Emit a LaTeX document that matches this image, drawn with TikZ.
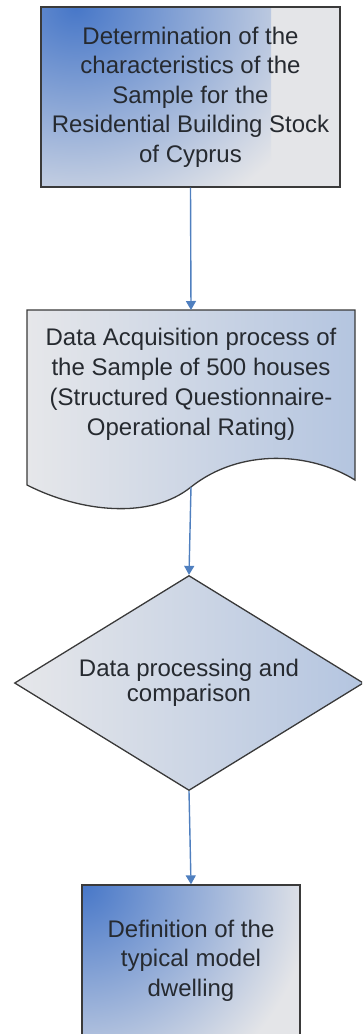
\documentclass[tikz,border=0pt]{standalone}
\usepackage{fontspec}
\setmainfont{Liberation Sans}
\usetikzlibrary{arrows.meta,shapes}
\definecolor{arrowblue}{HTML}{4F7FBF}
\definecolor{edgegray}{HTML}{3A3A3A}
\definecolor{boxblue}{HTML}{4777C8}
\definecolor{boxgray}{HTML}{E4E5E8}
\definecolor{docleft}{HTML}{E6E7EA}
\definecolor{docright}{HTML}{B4C5E0}
\definecolor{textgray}{HTML}{262A30}
\tikzstyle{flow}=[->,>={Triangle[length=9pt,width=10pt]},draw=arrowblue,color=arrowblue,line width=1.4pt]
\tikzstyle{stepbox}=[rectangle,draw=edgegray,line width=1.3pt,fill=boxgray,
                path picture={\shade[inner color=boxblue,outer color=boxgray]
                ([shift={(-230pt,-230pt)}]path picture bounding box.north west) rectangle
                ([shift={(230pt,230pt)}]path picture bounding box.north west);},
                align=center,text=textgray,font=\fontsize{24}{29.5}\selectfont]
\tikzstyle{docshape}=[draw=edgegray,line width=1.3pt,left color=docleft,right color=docright]
\tikzstyle{decision}=[diamond,draw=edgegray,line width=1.3pt,left color=docleft,
                right color=docright,aspect=1.62,inner sep=0pt,align=center,
                text=textgray,font=\fontsize{24}{25}\selectfont]

\begin{document}
\begin{tikzpicture}[x=1pt,y=-1pt]
    \clip (0,0) rectangle (362,1034);

    % Draw the sample node
    \node[stepbox, minimum width=299pt, minimum height=180pt] (det) at (190.5,97)
        {Determination of the\\characteristics of the\\Sample for the\\Residential Building Stock\\of Cyprus};

    % Draw the data acquisition document
    \path[docshape] (27,310) -- (355,310) -- (355,480)
        .. controls (310,452) and (240,448) .. (191,487)
        .. controls (150,520) and (80,512) .. (27,485) -- cycle;
    \coordinate (acqtop) at (191,310);
    \coordinate (acqbot) at (191,487);
    \node[align=center, text=textgray, font=\fontsize{24}{30}\selectfont] (acq) at (191,384)
        {Data Acquisition process of\\the Sample of 500 houses\\(Structured Questionnaire-\\Operational Rating)};

    % Draw the decision node
    \node[decision, minimum width=349pt, minimum height=215pt] (proc) at (189,683)
        {Data processing and\\comparison};

    % Draw the model dwelling node
    \node[stepbox, minimum width=218pt, minimum height=151pt] (model) at (191,960.5)
        {Definition of the\\typical model\\dwelling};

    %connect nodes
    \draw[flow] (det.south) -- (acqtop);
    \draw[flow] (acqbot) -- (proc.north);
    \draw[flow] (proc.south) -- (model.north);

\end{tikzpicture}
\end{document}
